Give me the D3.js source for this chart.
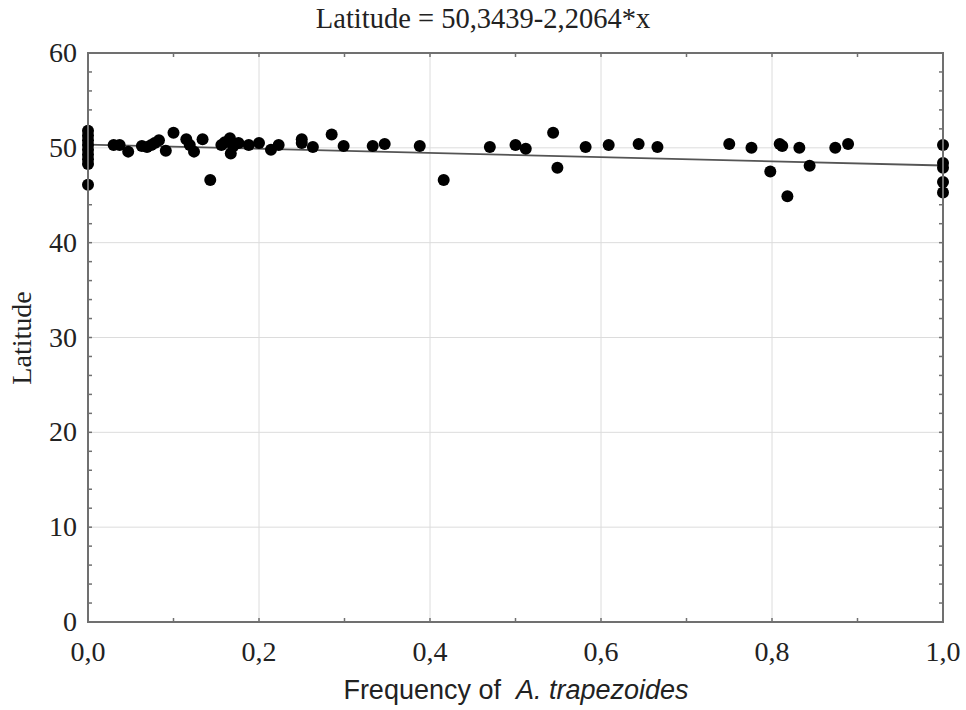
<!DOCTYPE html>
<html>
<head>
<meta charset="utf-8">
<title>Latitude vs frequency of A. trapezoides</title>
<script src="https://d3js.org/d3.v7.min.js"></script>
<style>
  body { margin: 0; background: #fff; }
  .tick-label { font-family: "Liberation Serif", "Times New Roman", serif; font-size: 28px; fill: #222; }
  .title { font-family: "Liberation Serif", "Times New Roman", serif; font-size: 28.5px; fill: #222; }
  .ylab { font-family: "Liberation Serif", "Times New Roman", serif; font-size: 28px; fill: #222; }
  .xlab { font-family: "Liberation Sans", Arial, sans-serif; font-size: 27px; fill: #222; }
  .grid { stroke: #dcdcdc; stroke-width: 1; }
  .frame { fill: none; stroke: #707070; stroke-width: 2; }
</style>
</head>
<body>
<svg id="chart" width="966" height="710"></svg>
<script>
// frequency of A. trapezoides (x) and latitude (y) for each sample
const freq = [
  0, 0, 0, 0, 0, 0, 0, 0, 0,
  0.030, 0.037, 0.047, 0.063, 0.069, 0.074, 0.078, 0.083, 0.091, 0.100,
  0.115, 0.119, 0.124, 0.134, 0.143, 0.156, 0.160, 0.166, 0.167, 0.170, 0.176,
  0.188, 0.200, 0.214, 0.223, 0.250, 0.250, 0.263, 0.285, 0.299, 0.333, 0.347,
  0.388, 0.416, 0.470, 0.500, 0.512, 0.544, 0.549, 0.582, 0.609, 0.644, 0.666,
  0.750, 0.776, 0.798, 0.809, 0.812, 0.818, 0.832, 0.844, 0.874, 0.889,
  1, 1, 1, 1, 1
];
const latitude = [
  51.8, 51.3, 50.8, 50.3, 49.8, 49.3, 48.8, 48.3, 46.1,
  50.3, 50.3, 49.6, 50.2, 50.1, 50.3, 50.5, 50.8, 49.7, 51.6,
  50.9, 50.3, 49.6, 50.9, 46.6, 50.3, 50.6, 51.0, 49.4, 50.2, 50.5,
  50.3, 50.5, 49.8, 50.3, 50.9, 50.5, 50.1, 51.4, 50.2, 50.2, 50.4,
  50.2, 46.6, 50.1, 50.3, 49.9, 51.6, 47.9, 50.1, 50.3, 50.4, 50.1,
  50.4, 50.0, 47.5, 50.4, 50.2, 44.9, 50.0, 48.1, 50.0, 50.4,
  50.3, 48.4, 47.9, 46.4, 45.3
];
// fitted line: Latitude = 50,3439 - 2,2064*x
const intercept = 50.3439;
const slope = -2.2064;

const xTicks = [0, 0.2, 0.4, 0.6, 0.8, 1.0];
const yTicks = [0, 10, 20, 30, 40, 50, 60];
const xMinor = d3.range(0, 1.0001, 0.1);
const yMinor = d3.range(0, 60.001, 2);

const svg = d3.select('#chart');
const mLeft = 88, mRight = 943, mTop = 53, mBottom = 622;

const x = d3.scaleLinear().domain([0, 1]).range([mLeft, mRight]);
const y = d3.scaleLinear().domain([0, 60]).range([mBottom, mTop]);
const fmt = d => d3.format('.1f')(d).replace('.', ',');

// grid lines
svg.append('g').selectAll('line')
  .data(xTicks.slice(1, -1))
  .join('line')
  .attr('class', 'grid')
  .attr('x1', d => x(d)).attr('x2', d => x(d))
  .attr('y1', mTop).attr('y2', mBottom);
svg.append('g').selectAll('line')
  .data(yTicks.slice(1, -1))
  .join('line')
  .attr('class', 'grid')
  .attr('x1', mLeft).attr('x2', mRight)
  .attr('y1', d => y(d)).attr('y2', d => y(d));

// small inward ticks on all four sides
const tk = svg.append('g').attr('stroke', '#707070').attr('stroke-width', 1.5);
xMinor.forEach(v => {
  tk.append('line').attr('x1', x(v)).attr('x2', x(v)).attr('y1', mBottom).attr('y2', mBottom - 4);
  tk.append('line').attr('x1', x(v)).attr('x2', x(v)).attr('y1', mTop).attr('y2', mTop + 4);
});
yMinor.forEach(v => {
  tk.append('line').attr('y1', y(v)).attr('y2', y(v)).attr('x1', mLeft).attr('x2', mLeft + 4);
  tk.append('line').attr('y1', y(v)).attr('y2', y(v)).attr('x1', mRight).attr('x2', mRight - 4);
});

// regression line
svg.append('line')
  .attr('x1', x(0)).attr('y1', y(intercept))
  .attr('x2', x(1)).attr('y2', y(intercept + slope))
  .attr('stroke', '#555').attr('stroke-width', 1.8);

// points
svg.append('g').selectAll('circle')
  .data(freq.map((f, i) => [f, latitude[i]]))
  .join('circle')
  .attr('cx', d => x(d[0]))
  .attr('cy', d => y(d[1]))
  .attr('r', 6)
  .attr('fill', '#000');

// frame
svg.append('rect').attr('class', 'frame')
  .attr('x', mLeft).attr('y', mTop)
  .attr('width', mRight - mLeft).attr('height', mBottom - mTop);

// tick labels
svg.append('g').selectAll('text')
  .data(yTicks)
  .join('text')
  .attr('class', 'tick-label')
  .attr('x', mLeft - 11)
  .attr('y', d => y(d) + 9)
  .attr('text-anchor', 'end')
  .text(d => d);
svg.append('g').selectAll('text')
  .data(xTicks)
  .join('text')
  .attr('class', 'tick-label')
  .attr('x', d => x(d))
  .attr('y', 661)
  .attr('text-anchor', 'middle')
  .text(fmt);

// titles
svg.append('text').attr('class', 'title')
  .attr('x', 483).attr('y', 28)
  .attr('text-anchor', 'middle')
  .text('Latitude = 50,3439-2,2064*x');

svg.append('text').attr('class', 'ylab')
  .attr('transform', 'translate(31,338) rotate(-90)')
  .attr('text-anchor', 'middle')
  .text('Latitude');

const xl = svg.append('text').attr('class', 'xlab')
  .attr('x', 516).attr('y', 699)
  .attr('text-anchor', 'middle');
xl.append('tspan').text('Frequency of  ').attr('xml:space', 'preserve');
xl.append('tspan').attr('font-style', 'italic').text('A. trapezoides');
</script>
</body>
</html>
